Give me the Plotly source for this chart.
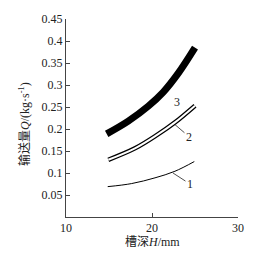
import plotly.graph_objects as go

H1 = [14.85, 17.64, 20.35, 22.67, 24.92]
Q1 = [0.069, 0.076, 0.089, 0.104, 0.126]
H2 = [14.92, 18.02, 20.55, 22.67, 25.0]
Q2 = [0.130, 0.156, 0.186, 0.215, 0.253]
H3 = [14.73, 17.24, 19.57, 21.31, 23.06, 25.0]
Q3 = [0.189, 0.218, 0.252, 0.284, 0.327, 0.385]

x_ticks = [10, 20, 30]
y_ticks = [0.05, 0.1, 0.15, 0.2, 0.25, 0.3, 0.35, 0.4, 0.45]
y_labels = ["0.05", "0.1", "0.15", "0.2", "0.25", "0.3", "0.35", "0.4", "0.45"]

labels = ["1", "2", "3"]
label_pts = [(22.44, 0.100), (22.67, 0.210), (21.38, 0.282)]
label_off = [(17, 11), (14, 12), (13, 9)]

fig = go.Figure()
fig.add_trace(go.Scatter(x=H1, y=Q1, mode="lines", line=dict(color="black", width=1, shape="spline")))
fig.add_trace(go.Scatter(x=H2, y=Q2, mode="lines", line=dict(color="black", width=4.5, shape="spline")))
fig.add_trace(go.Scatter(x=H2, y=Q2, mode="lines", line=dict(color="white", width=2, shape="spline")))
fig.add_trace(go.Scatter(x=H3, y=Q3, mode="lines", line=dict(color="black", width=7, shape="spline")))

for t, (px, py), (ax, ay) in zip(labels, label_pts, label_off):
    fig.add_annotation(x=px, y=py, text=t, showarrow=True, arrowhead=0, arrowwidth=0.8,
                       arrowcolor="#222", ax=ax, ay=ay, standoff=0,
                       font=dict(family="Liberation Serif", size=12, color="#222"))

font = "Liberation Serif, Noto Sans CJK SC"
# axis titles placed as annotations in paper coordinates
fig.add_annotation(xref="paper", yref="paper", x=-41 / 172, y=0.47, xanchor="center", yanchor="middle",
                   text="输送量<i>Q</i>/(kg·s<sup>-1</sup>)", textangle=-90, showarrow=False,
                   font=dict(family=font, size=12, color="#222"))
fig.add_annotation(xref="paper", yref="paper", x=0.5, y=-26 / 203, xanchor="center", yanchor="middle",
                   text="槽深<i>H</i>/mm", showarrow=False,
                   font=dict(family=font, size=12, color="#222"))

fig.update_layout(
    width=257, height=253,
    margin=dict(l=66, r=19, t=14, b=36),
    paper_bgcolor="white", plot_bgcolor="white",
    showlegend=False,
    font=dict(family=font, size=12, color="#222"),
    xaxis=dict(range=[10, 30], tickvals=x_ticks, ticks="inside", ticklen=4,
               showline=True, linecolor="#444", linewidth=1, showgrid=False, zeroline=False,
               tickfont=dict(family="Liberation Serif", size=12)),
    yaxis=dict(range=[0, 0.45], tickvals=y_ticks, ticktext=y_labels, ticks="inside", ticklen=4,
               showline=True, linecolor="#444", linewidth=1, showgrid=False, zeroline=False,
               tickfont=dict(family="Liberation Serif", size=12)),
)
fig.write_html("out.html")
